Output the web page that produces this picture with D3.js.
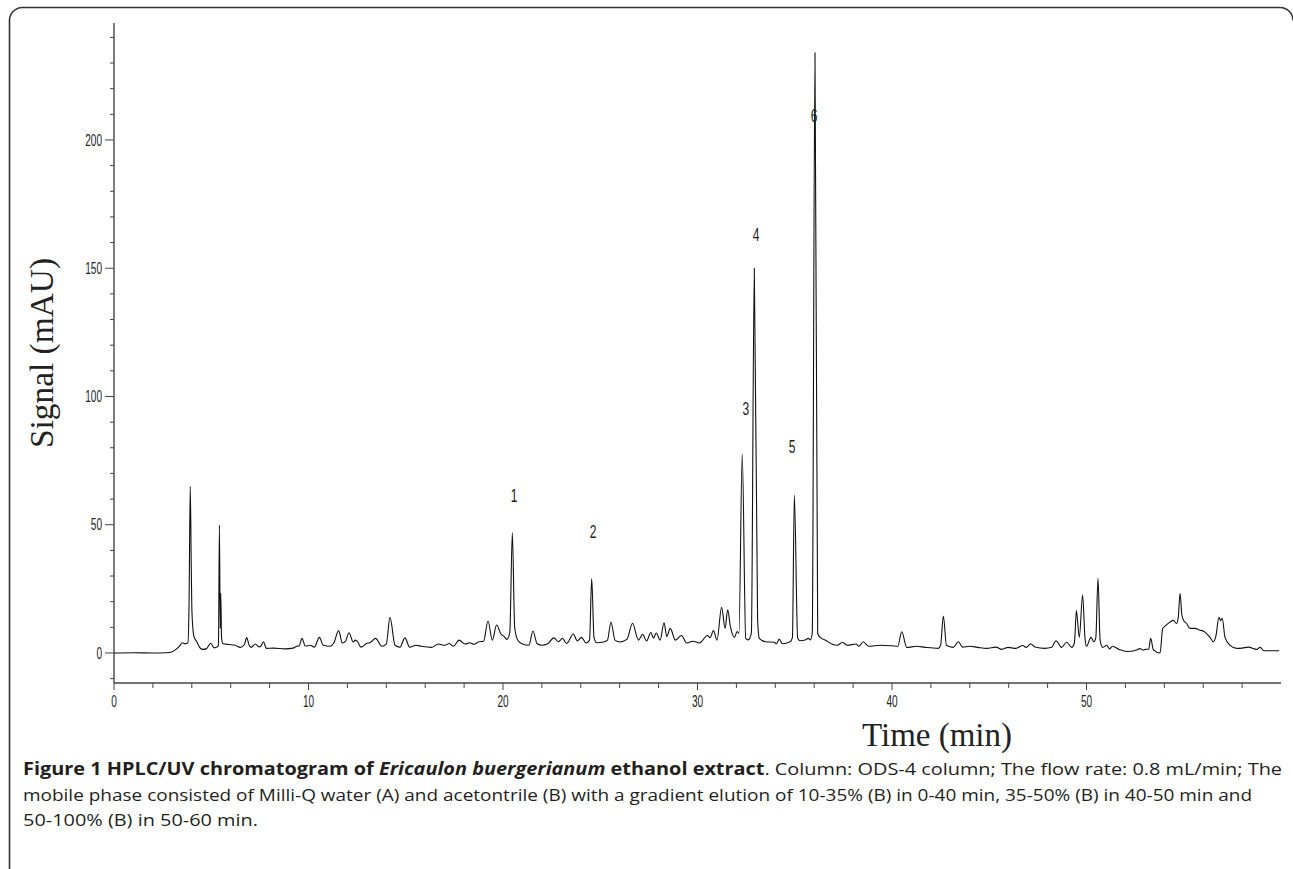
<!DOCTYPE html>
<html>
<head>
<meta charset="utf-8">
<script src="https://cdn.jsdelivr.net/npm/d3@7"></script>
<style>
    body { margin: 0; background: #fff; }
    svg { display: block; }
</style>
</head>
<body>
<div id="chart"></div>
<script>
// retention time (min) and detector signal (mAU)
var times = [
    0, 1, 2, 2.7, 3.0, 3.2, 3.4, 3.5, 3.66, 3.8, 3.86, 3.92, 3.97, 4.01, 4.11, 4.25, 4.4, 4.55, 4.75, 4.97,
    5.15, 5.3, 5.37, 5.42, 5.46, 5.49, 5.53, 5.6, 5.9, 6.2, 6.5, 6.7, 6.82, 6.95, 7.05, 7.27, 7.45, 7.55, 7.68, 7.84,
    8.2, 8.8, 9.2, 9.4, 9.52, 9.67, 9.83, 10.09, 10.3, 10.56, 10.76, 11.1, 11.3, 11.55, 11.74, 11.9, 12.08, 12.3, 12.4, 12.5,
    12.7, 12.96, 13.2, 13.45, 13.77, 14.0, 14.19, 14.45, 14.7, 14.96, 15.2, 15.53, 15.8, 16.33, 16.68, 17.0, 17.24, 17.45, 17.74, 18.05,
    18.3, 18.5, 18.77, 19.0, 19.23, 19.45, 19.67, 19.9, 20.05, 20.2, 20.35, 20.48, 20.6, 20.76, 21.0, 21.33, 21.54, 21.75, 22.0, 22.3,
    22.62, 22.84, 23.06, 23.27, 23.62, 23.82, 24.04, 24.27, 24.45, 24.56, 24.68, 24.82, 25.17, 25.37, 25.55, 25.76, 26.0, 26.37, 26.66, 26.96,
    27.18, 27.38, 27.6, 27.74, 27.88, 28.08, 28.28, 28.42, 28.6, 28.86, 29.18, 29.44, 29.78, 30.1, 30.51, 30.65, 30.82, 31.0, 31.24, 31.42,
    31.55, 31.69, 31.9, 32.04, 32.13, 32.3, 32.48, 32.61, 32.77, 32.92, 33.09, 33.18, 33.5, 33.95, 34.05, 34.2, 34.36, 34.76, 34.88, 34.98,
    35.15, 35.27, 35.53, 35.7, 35.8, 35.9, 36.04, 36.18, 36.3, 36.56, 36.9, 37.2, 37.45, 37.7, 38.15, 38.3, 38.53, 38.79, 39.39, 40.0,
    40.3, 40.5, 40.76, 41.27, 41.7, 42.38, 42.5, 42.64, 42.8, 43.15, 43.41, 43.63, 44.0, 44.4, 44.87, 45.35, 45.64, 45.98, 46.35, 46.72,
    46.9, 47.13, 47.35, 47.86, 48.21, 48.43, 48.72, 48.98, 49.24, 49.38, 49.48, 49.63, 49.8, 49.92, 50.0, 50.23, 50.38, 50.48, 50.59, 50.7,
    50.83, 51.04, 51.18, 51.33, 51.68, 52.07, 52.58, 52.75, 52.92, 53.03, 53.2, 53.3, 53.44, 53.78, 53.92, 54.04, 54.3, 54.46, 54.63, 54.72,
    54.81, 54.9, 54.98, 55.15, 55.32, 55.58, 55.8, 56.04, 56.35, 56.52, 56.65, 56.81, 56.9, 56.98, 57.12, 57.38, 57.73, 58.0, 58.32, 58.75,
    58.92, 59.12, 59.91
];
var signal = [
    0, 0.1, 0, 0.1, 0.5, 1.5, 3.0, 4.0, 3.6, 4.0, 20, 65, 35, 15.5, 6.4, 4.5, 2.2, 1.4, 1.6, 3.8,
    2.0, 2.3, 3.0, 49.8, 9.6, 23.3, 6, 3.6, 3.3, 3.1, 2.2, 3.2, 6.0, 3.0, 2.2, 3.5, 2.4, 2.6, 4.4, 1.8,
    1.9, 1.6, 1.9, 2.6, 2.8, 5.7, 2.7, 3.0, 2.3, 6.1, 3.0, 2.6, 3.9, 8.7, 3.9, 4.5, 7.9, 4.3, 5.0, 4.6,
    2.3, 3.6, 4.2, 5.7, 2.6, 3.5, 13.9, 3.0, 2.3, 5.9, 2.3, 3.0, 2.6, 2.2, 3.5, 3.0, 3.7, 2.6, 5.0, 3.5,
    4.0, 3.4, 4.4, 4.6, 12.5, 5.0, 10.9, 7.3, 6.5, 5.3, 8, 47, 10, 5.0, 3.5, 3.0, 8.6, 3.7, 3.0, 3.6,
    5.9, 4.4, 5.7, 3.7, 7.4, 4.7, 6.1, 3.9, 5, 29, 6, 4.0, 4.3, 5.0, 12.0, 5.0, 4.3, 5.3, 11.6, 5.0,
    7.3, 4.7, 8.0, 5.8, 7.8, 5.0, 11.8, 6.4, 9.6, 5.0, 6.8, 3.9, 4.6, 3.9, 6.8, 6.0, 8.7, 5.0, 17.8, 9.6,
    16.8, 10.4, 6.1, 8.4, 7.7, 77.6, 5.7, 5.1, 7.7, 150, 12.9, 5.7, 4.4, 4.2, 3.5, 5.4, 3.6, 4.4, 6, 61.6,
    5.7, 4.8, 5.1, 5.7, 5.1, 7.7, 234, 7.7, 6.1, 5.1, 3.5, 3.0, 4.2, 3.0, 3.5, 2.6, 4.4, 2.6, 3.0, 2.8,
    2.6, 8.3, 2.2, 2.6, 2.2, 1.8, 3, 14.4, 3.0, 2.2, 4.4, 2.3, 2.6, 2.2, 1.8, 2.3, 1.4, 2.2, 1.8, 2.9,
    2.2, 3.6, 2.3, 1.8, 2.2, 4.8, 2.2, 4.2, 2.2, 4, 16.5, 6.1, 22.6, 6, 2.6, 6.1, 4.4, 6, 29.1, 5,
    2.2, 3.0, 1.6, 2.6, 1.4, 0.6, 1.2, 1.7, 1.1, 1.4, 1.5, 5.7, 1.2, 0, 9.6, 10.5, 12.1, 12.7, 11.5, 14,
    23.3, 15, 12.9, 11.5, 9.6, 9.6, 9.0, 8.4, 6.1, 4.4, 6.5, 13.9, 12.6, 13.5, 6.1, 3.0, 1.8, 1.9, 2.3, 1.4,
    2.2, 0.9, 0.9
];

// numbered compounds and where their labels sit (data units)
var peakNames = ["1", "2", "3", "4", "5", "6"];
var labelTime = [20.57, 24.63, 32.49, 33.01, 34.87, 35.99];
var labelSignal = [61.2, 47.2, 95.5, 163, 80.3, 209.7];

var xMajorTicks = [0, 10, 20, 30, 40, 50];
var yMajorTicks = [0, 50, 100, 150, 200];

var captionLines = [
    [["Figure 1 HPLC/UV chromatogram of ", "bold"], ["Ericaulon buergerianum", "bolditalic"], [" ethanol extract", "bold"],
     [". Column: ODS-4 column; The flow rate: 0.8 mL/min; The", "normal"]],
    [["mobile phase consisted of Milli-Q water (A) and acetontrile (B) with a gradient elution of 10-35% (B) in 0-40 min, 35-50% (B) in 40-50 min and", "normal"]],
    [["50-100% (B) in 50-60 min.", "normal"]]
];
var captionWidths = [1259, 1229, 235];

function init() {
    var w = 1293;
    var h = 869;

    var svg = d3.select("#chart")
        .append("svg")
        .attr("width", w)
        .attr("height", h);

    // figure frame, rounded top corners, open at the bottom
    svg.append("path")
        .attr("d", "M9.5,869 V21 A13,13 0 0 1 22.5,7.5 H1280 A13,13 0 0 1 1293,20.5")
        .attr("fill", "none")
        .attr("stroke", "#333")
        .attr("stroke-width", 1.6);

    var x = d3.scaleLinear().domain([0, 60]).range([114, 1281]);
    var y = d3.scaleLinear().domain([-11.7, 245.6]).range([683, 23]);

    var tickFont = "'Liberation Sans', Arial, sans-serif";

    // x axis
    var xAxis = svg.append("g").attr("transform", "translate(0,683)");
    xAxis.append("line")
        .attr("x1", x(0)).attr("x2", x(60))
        .attr("stroke", "#444").attr("stroke-width", 1.4);
    xAxis.selectAll(".minor")
        .data(d3.range(0, 60, 2))
        .enter().append("line")
        .attr("x1", function (d) { return x(d); })
        .attr("x2", function (d) { return x(d); })
        .attr("y2", function (d) { return d % 10 === 0 ? 7 : 5; })
        .attr("stroke", "#444").attr("stroke-width", 1);
    xAxis.selectAll("text")
        .data(xMajorTicks)
        .enter().append("text")
        .attr("x", function (d) { return x(d); })
        .attr("y", 24)
        .attr("text-anchor", "middle")
        .style("font-family", tickFont)
        .style("font-size", "16px")
        .style("fill", "#222")
        .attr("textLength", function (d) { return String(d).length * 5.6; })
        .attr("lengthAdjust", "spacingAndGlyphs")
        .text(function (d) { return d; });

    // y axis
    var yAxis = svg.append("g").attr("transform", "translate(114,0)");
    yAxis.append("line")
        .attr("y1", y(-11.7)).attr("y2", y(245.6))
        .attr("stroke", "#444").attr("stroke-width", 1.4);
    yAxis.selectAll(".minor")
        .data(d3.range(-10, 241, 10))
        .enter().append("line")
        .attr("y1", function (d) { return y(d); })
        .attr("y2", function (d) { return y(d); })
        .attr("x2", function (d) { return d % 50 === 0 ? -9 : -4; })
        .attr("stroke", "#444").attr("stroke-width", 1);
    yAxis.selectAll("text")
        .data(yMajorTicks)
        .enter().append("text")
        .attr("x", -12)
        .attr("y", function (d) { return y(d); })
        .attr("dy", "0.36em")
        .attr("text-anchor", "end")
        .style("font-family", tickFont)
        .style("font-size", "16px")
        .style("fill", "#222")
        .attr("textLength", function (d) { return String(d).length * 5.6; })
        .attr("lengthAdjust", "spacingAndGlyphs")
        .text(function (d) { return d; });

    // chromatogram trace
    var points = times.map(function (t, i) { return [t, signal[i]]; });
    var line = d3.line()
        .x(function (d) { return x(d[0]); })
        .y(function (d) { return y(d[1]); })
        .curve(d3.curveMonotoneX);
    svg.append("path")
        .datum(points)
        .attr("d", line)
        .attr("fill", "none")
        .attr("stroke", "#111")
        .attr("stroke-width", 1.1);

    // peak numbers
    svg.selectAll(".peak")
        .data(peakNames)
        .enter().append("text")
        .attr("class", "peak")
        .attr("x", function (d, i) { return x(labelTime[i]); })
        .attr("y", function (d, i) { return y(labelSignal[i]); })
        .attr("dy", "0.36em")
        .attr("text-anchor", "middle")
        .style("font-family", tickFont)
        .style("font-size", "18px")
        .style("fill", "#222")
        .attr("textLength", 6.7)
        .attr("lengthAdjust", "spacingAndGlyphs")
        .text(function (d) { return d; });

    // axis titles
    svg.append("text")
        .attr("x", 937)
        .attr("y", 746)
        .attr("text-anchor", "middle")
        .style("font-family", "'Liberation Serif', serif")
        .style("font-size", "34px")
        .style("fill", "#222")
        .attr("textLength", 150)
        .attr("lengthAdjust", "spacingAndGlyphs")
        .text("Time (min)");

    svg.append("text")
        .attr("transform", "translate(53,353) rotate(-90)")
        .attr("text-anchor", "middle")
        .style("font-family", "'Liberation Serif', serif")
        .style("font-size", "34px")
        .style("fill", "#222")
        .attr("textLength", 190)
        .attr("lengthAdjust", "spacingAndGlyphs")
        .text("Signal (mAU)");

    // caption
    var baselines = [775, 801, 826];
    captionLines.forEach(function (parts, i) {
        var t = svg.append("text")
            .attr("x", 23)
            .attr("y", baselines[i])
            .style("font-family", "'Open Sans', sans-serif")
            .style("font-size", "17px")
            .style("fill", "#231f20")
            .attr("textLength", captionWidths[i])
            .attr("lengthAdjust", "spacingAndGlyphs");
        parts.forEach(function (p) {
            t.append("tspan")
                .style("font-weight", p[1] === "normal" ? "normal" : "bold")
                .style("font-style", p[1] === "bolditalic" ? "italic" : "normal")
                .text(p[0]);
        });
    });
}

window.onload = init;
</script>
</body>
</html>
